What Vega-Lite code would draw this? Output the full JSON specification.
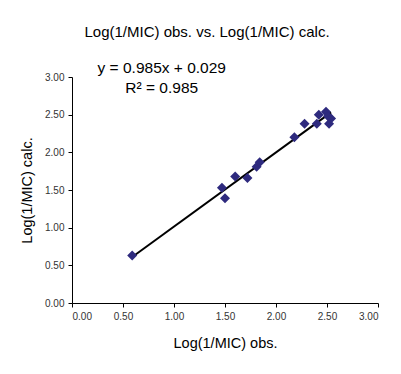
{
  "$schema": "https://vega.github.io/schema/vega-lite/v6.json",
  "width": 306,
  "height": 226,
  "autosize": {"type": "none"},
  "padding": {"left": 72, "top": 77, "right": 23, "bottom": 71},
  "background": "white",
  "config": {
    "font": "Liberation Sans",
    "view": {"stroke": null},
    "axis": {
      "grid": false,
      "domainColor": "black",
      "tickColor": "black",
      "tickSize": 4,
      "labelFont": "Liberation Sans",
      "labelFontSize": 10,
      "labelColor": "#333333",
      "labelOverlap": false,
      "titleFont": "Liberation Sans",
      "titleFontSize": 14.5,
      "titleFontWeight": "normal",
      "titleColor": "black"
    }
  },
  "title": {
    "text": "Log(1/MIC) obs. vs. Log(1/MIC) calc.",
    "font": "Liberation Sans",
    "fontSize": 15,
    "fontWeight": "normal",
    "color": "black",
    "offset": 21,
    "dx": -18
  },
  "datasets": {
    "pts": [
      {"obs": 0.59, "calc": 0.63},
      {"obs": 1.47, "calc": 1.53},
      {"obs": 1.50, "calc": 1.39},
      {"obs": 1.60, "calc": 1.68},
      {"obs": 1.72, "calc": 1.66},
      {"obs": 1.81, "calc": 1.81},
      {"obs": 1.84, "calc": 1.87},
      {"obs": 2.18, "calc": 2.20},
      {"obs": 2.28, "calc": 2.38},
      {"obs": 2.40, "calc": 2.38},
      {"obs": 2.42, "calc": 2.50},
      {"obs": 2.49, "calc": 2.54},
      {"obs": 2.51, "calc": 2.48},
      {"obs": 2.52, "calc": 2.38},
      {"obs": 2.54, "calc": 2.45}
    ],
    "fit": [
      {"obs": 0.59, "calc": 0.610},
      {"obs": 2.54, "calc": 2.531}
    ],
    "eq": [
      {"obs": 0.88, "calc": 3.125, "label": "y = 0.985x + 0.029"},
      {"obs": 0.88, "calc": 2.86, "label": "R² = 0.985"}
    ]
  },
  "encoding": {
    "x": {"field": "obs", "type": "quantitative", "scale": {"domain": [0, 3], "nice": false}, "axis": {"title": "Log(1/MIC) obs.", "values": [0, 0.5, 1, 1.5, 2, 2.5, 3], "format": ".2f", "labelPadding": 4, "titlePadding": 15}},
    "y": {"field": "calc", "type": "quantitative", "scale": {"domain": [0, 3], "nice": false}, "axis": {"title": "Log(1/MIC) calc.", "values": [0, 0.5, 1, 1.5, 2, 2.5, 3], "format": ".2f", "labelPadding": 4, "titlePadding": 10}}
  },
  "layer": [
    {
      "data": {"name": "fit"},
      "mark": {"type": "line", "color": "black", "strokeWidth": 2}
    },
    {
      "data": {"name": "pts"},
      "mark": {"type": "point", "shape": "diamond", "filled": true, "color": "#2E2A7E", "size": 100, "opacity": 1}
    },
    {
      "data": {"name": "eq"},
      "mark": {"type": "text", "fontSize": 15.5, "font": "Liberation Sans", "color": "black", "align": "center", "baseline": "middle"},
      "encoding": {
        "text": {"field": "label"}
      }
    }
  ]
}
